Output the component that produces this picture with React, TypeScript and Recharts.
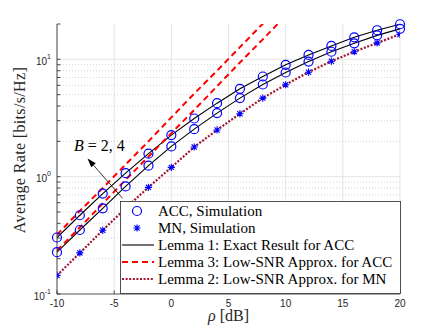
import React from 'react';
import { ComposedChart, Line, XAxis, YAxis, CartesianGrid, ReferenceLine, ReferenceDot } from 'recharts';

// SNR values (dB)
const rho = [-10, -8, -6, -4, -2, 0, 2, 4, 6, 8, 10, 12, 14, 16, 18, 20];
// ACC simulation / Lemma 1 exact (B = 4 upper, B = 2 lower)
const accB4 = [0.303, 0.469, 0.717, 1.07, 1.57, 2.26, 3.13, 4.23, 5.61, 7.14, 8.98, 10.9, 13.0, 15.4, 17.7, 19.9];
const accB2 = [0.227, 0.351, 0.537, 0.826, 1.24, 1.81, 2.54, 3.48, 4.67, 6.1, 7.72, 9.57, 11.6, 13.7, 16.0, 18.2];
// MN simulation
const mnSim = [0.144, 0.224, 0.349, 0.54, 0.811, 1.2, 1.79, 2.5, 3.44, 4.67, 6.07, 7.77, 9.64, 11.6, 13.8, 16.3];
// Lemma 2: low-SNR approx for MN
const lemma2 = [0.144, 0.224, 0.349, 0.54, 0.811, 1.2, 1.79, 2.5, 3.44, 4.67, 6.07, 7.77, 9.64, 11.6, 13.8, 16.3];
// Lemma 3: low-SNR approx for ACC (only up to 10 dB, beyond the top)
const lemma3B4 = [0.32, 0.51, 0.8, 1.27, 2.0, 3.2, 5.1, 8.0, 12.7, 20.1, 32];
const lemma3B2 = [0.235, 0.37, 0.59, 0.94, 1.48, 2.35, 3.7, 5.9, 9.4, 14.8, 23.5];

const xTicks = [-10, -5, 0, 5, 10, 15, 20];
const yTicks = [0.1, 0.2, 0.3, 0.4, 0.5, 0.6, 0.7, 0.8, 0.9, 1, 2, 3, 4, 5, 6, 7, 8, 9, 10, 20];
const yDecades = [0.1, 1, 10];
const yDecadeLabels = ['-1', '0', '1'];
const yMajorGrid = [1, 10];
const yMinorGrid = [0.2, 0.3, 0.4, 0.5, 0.6, 0.7, 0.8, 0.9, 2, 3, 4, 5, 6, 7, 8, 9];

const legendLabels = [
  'ACC, Simulation',
  'MN, Simulation',
  'Lemma 1: Exact Result for ACC',
  'Lemma 3: Low-SNR Approx. for ACC',
  'Lemma 2: Low-SNR Approx. for MN',
];

const arrowTail = { x: -4.26, y: 0.653 };
const arrowHead = { x: -7.33, y: 1.43 };
const annotationPos = { x: -6.3, y: 1.81 };

const data = rho.map((x, i) => ({
  x,
  accB4: accB4[i],
  accB2: accB2[i],
  mn: mnSim[i],
  l2: lemma2[i],
  l3b4: i < lemma3B4.length ? lemma3B4[i] : null,
  l3b2: i < lemma3B2.length ? lemma3B2[i] : null,
}));

const AX = '#262626';
const BLUE = '#0000ff';
const RED = '#ff0000';
const MAROON = '#a2142f';
const SERIF = '"Liberation Serif", "Times New Roman", serif';
const SANS = '"Liberation Sans", Arial, Helvetica, sans-serif';

const starPath = (cx: number, cy: number, s: number) => {
  const d = s * 0.72;
  return `M${cx - s},${cy}L${cx + s},${cy}M${cx},${cy - s}L${cx},${cy + s}M${cx - d},${cy - d}L${cx + d},${cy + d}M${cx - d},${cy + d}L${cx + d},${cy - d}`;
};

const StarDot = (props: any) => {
  const { cx, cy, index } = props;
  if (cx == null || cy == null) return <g key={`st${index}`} />;
  return <path key={`st${index}`} d={starPath(cx, cy, 3.6)} stroke={BLUE} strokeWidth={1.1} fill="none" />;
};

const YTick = (props: any) => {
  const { x, y, payload } = props;
  const idx = yDecades.findIndex((d) => Math.abs(d - payload.value) < 1e-9);
  if (idx < 0) return <g />;
  return (
    <text x={x} y={y + 5.5} textAnchor="end" fontFamily={SANS} fontSize={10} fill={AX}>
      <tspan>10</tspan>
      <tspan dy={-6} fontSize={7}>{yDecadeLabels[idx]}</tspan>
    </text>
  );
};

const XTick = (props: any) => {
  const { x, y, payload } = props;
  return (
    <text x={x} y={y} dy={7} textAnchor="middle" fontFamily={SANS} fontSize={10} fill={AX}>
      {payload.value}
    </text>
  );
};

const EmptyTick = () => <g />;

const ArrowShape = (p: any) => {
  const { x1, y1, x2, y2 } = p;
  const ang = Math.atan2(y2 - y1, x2 - x1);
  const L = 9;
  const W = 3;
  const bx = x2 - L * Math.cos(ang);
  const by = y2 - L * Math.sin(ang);
  const px = -Math.sin(ang) * W;
  const py = Math.cos(ang) * W;
  return (
    <g>
      <line x1={x1} y1={y1} x2={bx} y2={by} stroke="#000" strokeWidth={0.8} />
      <polygon points={`${x2},${y2} ${bx + px},${by + py} ${bx - px},${by - py}`} fill="#000" />
    </g>
  );
};

const AnnotationShape = (p: any) => {
  const { cx, cy } = p;
  return (
    <text x={cx} y={cy + 5} textAnchor="middle" fontFamily={SERIF} fontSize={16} fill="#000">
      <tspan fontStyle="italic">B</tspan>
      <tspan> = 2, 4</tspan>
    </text>
  );
};

const YLabel = (p: any) => {
  const vb = p.viewBox || { x: 0, y: 24, width: 57, height: 270 };
  const cx = vb.x + 19;
  const cy = vb.y + vb.height / 2 - 9;
  return (
    <text x={cx} y={cy} transform={`rotate(-90 ${cx} ${cy})`} textAnchor="middle" dominantBaseline="central"
      fontFamily={SERIF} fontSize={16} fill={AX} letterSpacing={0.35}>
      Average Rate [bits/s/Hz]
    </text>
  );
};

const XLabel = (p: any) => {
  const vb = p.viewBox || { x: 57, y: 294, width: 343, height: 37 };
  const cx = vb.x + vb.width / 2;
  return (
    <text x={cx} y={vb.y + 27} textAnchor="middle" fontFamily={SERIF} fontSize={16} fill={AX}>
      <tspan fontStyle="italic">ρ</tspan>
      <tspan> [dB]</tspan>
    </text>
  );
};

const LegendBox = () => {
  const w = 280;
  const h = 92;
  const rowY = (i: number) => 10 + i * 17;
  return (
    <svg width={w + 1} height={h + 1} style={{ position: 'absolute', left: 120, top: 201 }}>
      <rect x={0.5} y={0.5} width={w} height={h} fill="#fff" stroke={AX} strokeWidth={0.8} />
      <circle cx={17} cy={rowY(0)} r={4.5} fill="none" stroke={BLUE} strokeWidth={1.2} />
      <path d={starPath(17, rowY(1), 3.6)} stroke={BLUE} strokeWidth={1.1} fill="none" />
      <line x1={2} x2={34} y1={rowY(2)} y2={rowY(2)} stroke="#000" strokeWidth={1.1} />
      <line x1={2} x2={34} y1={rowY(3)} y2={rowY(3)} stroke={RED} strokeWidth={2} strokeDasharray="6 4" />
      <line x1={2} x2={34} y1={rowY(4)} y2={rowY(4)} stroke={MAROON} strokeWidth={2} strokeDasharray="2 1.6" />
      {legendLabels.map((t, i) => (
        <text key={t} x={38} y={rowY(i) + 5} fontFamily={SERIF} fontSize={15} fill="#000">
          {t}
        </text>
      ))}
    </svg>
  );
};

export default function App() {
  return (
    <div style={{ position: 'absolute', left: 0, top: 0, width: 443, height: 331, background: '#fff' }}>
      <ComposedChart width={443} height={331} data={data} margin={{ top: 24, right: 43, bottom: 0, left: 0 }}>
        <CartesianGrid vertical horizontal={false} stroke="#dedede" strokeWidth={0.8} />
        {yMinorGrid.map((v) => (
          <ReferenceLine key={`mi${v}`} y={v} stroke="#c4c4c4" strokeWidth={0.7} strokeDasharray="1 2" />
        ))}
        {yMajorGrid.map((v) => (
          <ReferenceLine key={`ma${v}`} y={v} stroke="#dedede" strokeWidth={0.8} />
        ))}
        <XAxis dataKey="x" type="number" domain={[-10, 20]} ticks={xTicks} height={37}
          axisLine={{ stroke: AX, strokeWidth: 0.8 }} tickLine={{ stroke: AX, strokeWidth: 0.8 }}
          tickSize={-3.5} tickMargin={9} tick={<XTick />} label={<XLabel />} allowDataOverflow />
        <XAxis xAxisId="top" orientation="top" type="number" domain={[-10, 20]} ticks={xTicks} height={0}
          axisLine={{ stroke: AX, strokeWidth: 0.8 }} tickLine={{ stroke: AX, strokeWidth: 0.8 }}
          tickSize={-3.5} tick={<EmptyTick />} allowDataOverflow />
        <YAxis scale="log" type="number" domain={[0.1, 20]} ticks={yTicks} width={57} allowDataOverflow
          axisLine={{ stroke: AX, strokeWidth: 0.8 }} tickLine={{ stroke: AX, strokeWidth: 0.8 }}
          tickSize={-3.5} tickMargin={9.5} tick={<YTick />} label={<YLabel />} interval={0} />
        <YAxis yAxisId="right" orientation="right" scale="log" type="number" domain={[0.1, 20]} ticks={yTicks}
          width={0} allowDataOverflow axisLine={{ stroke: AX, strokeWidth: 0.8 }}
          tickLine={{ stroke: AX, strokeWidth: 0.8 }} tickSize={-3.5} tick={<EmptyTick />} interval={0} />

        <Line dataKey="accB4" stroke="none" isAnimationActive={false}
          dot={{ r: 4.5, stroke: BLUE, fill: 'none', strokeWidth: 1.2, clipDot: false }} activeDot={false} />
        <Line dataKey="accB2" stroke="none" isAnimationActive={false}
          dot={{ r: 4.5, stroke: BLUE, fill: 'none', strokeWidth: 1.2, clipDot: false }} activeDot={false} />
        <Line dataKey="mn" stroke="none" isAnimationActive={false} dot={StarDot} activeDot={false} />
        <Line dataKey="accB4" stroke="#000" strokeWidth={1.1} dot={false} isAnimationActive={false} activeDot={false} />
        <Line dataKey="accB2" stroke="#000" strokeWidth={1.1} dot={false} isAnimationActive={false} activeDot={false} />
        <Line dataKey="l3b4" stroke={RED} strokeWidth={2} strokeDasharray="6 4" dot={false} isAnimationActive={false} activeDot={false} />
        <Line dataKey="l3b2" stroke={RED} strokeWidth={2} strokeDasharray="6 4" dot={false} isAnimationActive={false} activeDot={false} />
        <Line dataKey="l2" stroke={MAROON} strokeWidth={2.2} strokeDasharray="2 1.6" dot={false} isAnimationActive={false} activeDot={false} />

        <ReferenceLine segment={[arrowTail, arrowHead]} ifOverflow="visible" shape={ArrowShape} />
        <ReferenceDot x={annotationPos.x} y={annotationPos.y} ifOverflow="visible" shape={AnnotationShape} />
      </ComposedChart>
      <LegendBox />
    </div>
  );
}
